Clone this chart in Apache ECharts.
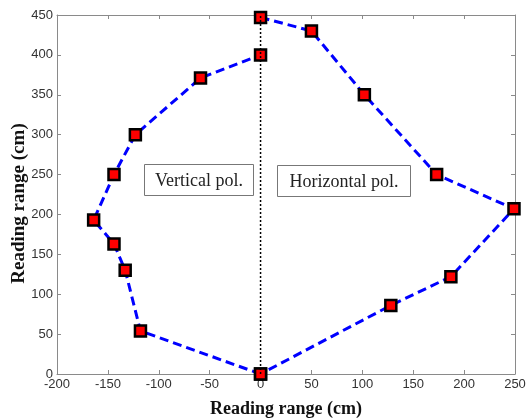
<!DOCTYPE html>
<html>
<head>
<meta charset="utf-8">
<script src="https://cdn.jsdelivr.net/npm/echarts@6/dist/echarts.min.js"></script>
<style>
  html, body { margin: 0; padding: 0; background: #fff; }
  #chart { width: 529px; height: 418px; }
</style>
</head>
<body>
<div id="chart"></div>
<script>
// Reading range measured for each polarization (x, y in cm)
const verticalX = [0, -118, -133, -144, -164, -144, -123, -59, 0];
const verticalY = [0, 54, 130, 163, 193, 250, 300, 371, 400];
const horizontalX = [0, 50, 102, 173, 249, 187, 128, 0];
const horizontalY = [447, 430, 350, 250, 207, 122, 86, 0];

// Reference line at x = 0
const axisLineX = [0, 0];
const axisLineY = [0, 450];

const xTicks = { min: -200, max: 250, interval: 50 };
const yTicks = { min: 0, max: 450, interval: 50 };

const toPairs = (xs, ys) => xs.map((x, i) => [x, ys[i]]);

const chart = echarts.init(document.getElementById('chart'));

const frameColor = '#8a8a8a';
const tickFont = { color: '#333', fontFamily: 'Liberation Sans', fontSize: 13 };
const titleFont = { color: '#111', fontFamily: 'Liberation Serif', fontSize: 18, fontWeight: 'bold' };

const markerSeries = (name, data) => ({
  name,
  type: 'line',
  data,
  z: 2,
  symbol: 'rect',
  symbolSize: 11,
  itemStyle: { color: '#ff0000', borderColor: '#000', borderWidth: 2.5 },
  lineStyle: { color: '#0000ff', width: 3, type: [9, 5] },
  animation: false
});

const boxText = (text, x, y, w, h) => ({
  type: 'group',
  left: x, top: y,
  z: 10,
  children: [
    { type: 'rect', shape: { x: 0, y: 0, width: w, height: h },
      style: { fill: '#fff', stroke: '#777', lineWidth: 1 } },
    { type: 'text', x: w / 2, y: h / 2 + 1,
      style: { text, fill: '#222', font: '18px "Liberation Serif"', align: 'center', verticalAlign: 'middle' } }
  ]
});

const frameAxis = (position) => ({
  type: 'value', position,
  axisLine: { show: true, onZero: false, lineStyle: { color: frameColor, width: 1 } },
  axisTick: { show: true, inside: true, length: 4, lineStyle: { color: frameColor } },
  splitLine: { show: false }
});

chart.setOption({
  backgroundColor: '#fff',
  animation: false,
  grid: { left: 57, right: 14, top: 15, bottom: 44, outerBoundsMode: 'none' },
  xAxis: [{
    ...frameAxis('bottom'), ...xTicks,
    name: 'Reading range (cm)', nameLocation: 'middle', nameGap: 26,
    nameMoveOverlap: false,
    nameTextStyle: titleFont,
    axisLabel: { ...tickFont, margin: 4 }
  }, {
    ...frameAxis('top'), ...xTicks,
    axisLabel: { show: false }
  }],
  yAxis: [{
    ...frameAxis('left'), ...yTicks,
    name: 'Reading range (cm)', nameLocation: 'middle', nameGap: 28,
    nameMoveOverlap: false,
    nameTextStyle: { ...titleFont, fontSize: 19, padding: [0, 18, 0, 0] },
    axisLabel: { ...tickFont, margin: 4 }
  }, {
    ...frameAxis('right'), ...yTicks,
    axisLabel: { show: false }
  }],
  series: [
    markerSeries('Vertical pol.', toPairs(verticalX, verticalY)),
    markerSeries('Horizontal pol.', toPairs(horizontalX, horizontalY)),
    {
      name: 'x = 0',
      type: 'line',
      data: toPairs(axisLineX, axisLineY),
      z: 5,
      symbol: 'none',
      lineStyle: { color: '#000', width: 1.5, type: [2, 2] },
      animation: false
    }
  ],
  graphic: [
    boxText('Vertical pol.', 144, 164, 109, 31),
    boxText('Horizontal pol.', 277, 165, 133, 31)
  ]
});
</script>
</body>
</html>
